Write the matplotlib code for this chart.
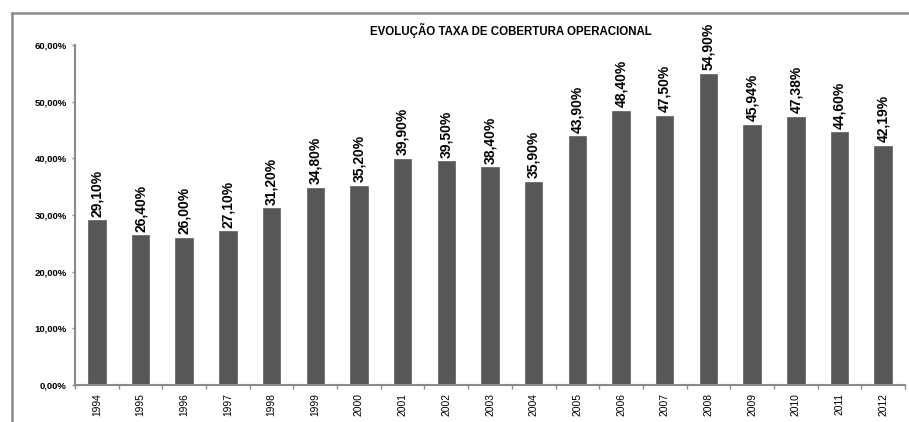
import matplotlib.pyplot as plt
from matplotlib.lines import Line2D
from matplotlib.ticker import FuncFormatter, FixedLocator
import numpy as np

plt.rcParams['font.family'] = ['Liberation Sans', 'DejaVu Sans']

years = ['1994', '1995', '1996', '1997', '1998', '1999', '2000', '2001', '2002', '2003',
         '2004', '2005', '2006', '2007', '2008', '2009', '2010', '2011', '2012']
taxa = [29.10, 26.40, 26.00, 27.10, 31.20, 34.80, 35.20, 39.90, 39.50, 38.40,
        35.90, 43.90, 48.40, 47.50, 54.90, 45.94, 47.38, 44.60, 42.19]
title = 'EVOLUÇÃO TAXA DE COBERTURA OPERACIONAL'

fig = plt.figure(figsize=(9.09, 4.22), dpi=100)
ax = fig.add_axes([75 / 909, 1 - 385 / 422, 830 / 909, 340 / 422])

x = np.arange(len(years))
vals = np.array(taxa) / 100
ax.bar(x, vals, width=0.4, color='#575757', edgecolor='#6a6a6a', linewidth=0.6)

for xi, v in zip(x, taxa):
    ax.annotate(('%.2f%%' % v).replace('.', ','), (xi, v / 100), xytext=(0, 2.5),
                textcoords='offset points', rotation=90, ha='center', va='bottom',
                fontsize=10, fontweight='bold')

ax.set_xlim(-0.5, len(years) - 0.5)
ax.set_ylim(0, 0.6)
ax.set_yticks(np.arange(0, 0.61, 0.1))
ax.yaxis.set_major_formatter(FuncFormatter(lambda v, p: ('%.2f%%' % (v * 100)).replace('.', ',')))
for lab in ax.get_yticklabels():
    lab.set_fontweight('bold')
ax.tick_params(axis='y', labelsize=6.8, length=2, width=1, color='#8a8a8a', pad=4)

ax.set_xticks(x)
ax.set_xticklabels(years, rotation=90, fontsize=7.4)
ax.tick_params(axis='x', which='major', length=0, pad=6)
ax.xaxis.set_minor_locator(FixedLocator(np.arange(-0.5, len(years), 1)))
ax.tick_params(axis='x', which='minor', length=3, width=1, color='#8a8a8a')

for s in ['top', 'right']:
    ax.spines[s].set_visible(False)
for s in ['left', 'bottom']:
    ax.spines[s].set_color('#8a8a8a')
    ax.spines[s].set_linewidth(1.5)

fig.text(511 / 909, 1 - 30 / 422, title, ha='center', va='center', fontsize=8.3, fontweight='bold')

# outer chart frame (cropped on right and bottom)
fig.add_artist(Line2D([12 / 909, 12 / 909], [0, 1 - 13 / 422], color='#8a8a8a', lw=1.8))
fig.add_artist(Line2D([12 / 909, 1], [1 - 13 / 422, 1 - 13 / 422], color='#8a8a8a', lw=1.8))

fig.savefig('out.png', dpi=100)
